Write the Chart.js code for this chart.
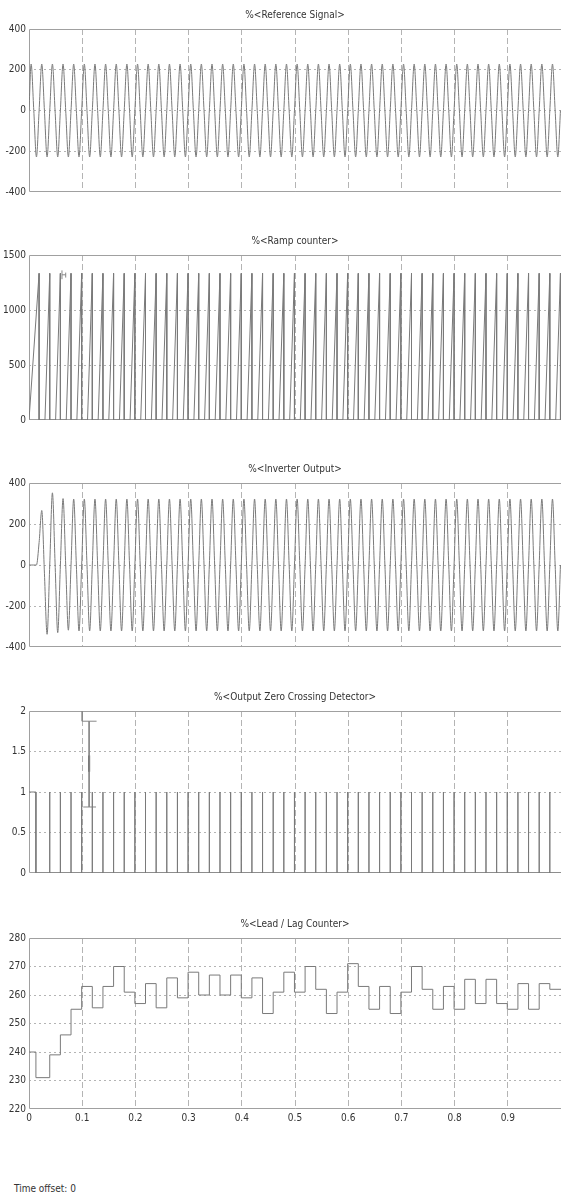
<!DOCTYPE html>
<html lang="en">
<head>
<meta charset="UTF-8" />
<title>Scope</title>
<script src="https://cdn.jsdelivr.net/npm/chart.js"></script>
<style>
  body { margin: 0; background: #fff; width: 561px; height: 1199px; overflow: hidden; position: relative; }
  canvas { position: absolute; left: 0; }
  #offset { position: absolute; left: 14px; top: 1183px; font: 10px 'Liberation Sans Narrow', 'DejaVu Sans Condensed', sans-serif; color: #333; }
</style>
</head>
<body>
<canvas id="c1" width="561" height="196" style="top:5px"></canvas>
<canvas id="c2" width="561" height="198" style="top:231px"></canvas>
<canvas id="c3" width="561" height="197" style="top:459px"></canvas>
<canvas id="c4" width="561" height="195" style="top:687px"></canvas>
<canvas id="c5" width="561" height="215" style="top:914px"></canvas>
<div id="offset">Time offset: 0</div>

<script>
// sample times (peaks, troughs, zero crossings of the 50 Hz waves)
var sineTimes = [0,
  0.004,0.009,0.014,0.019,0.024,0.029,0.034,0.039,0.044,0.049,0.054,0.059,0.064,0.069,0.074,0.079,0.084,0.089,0.094,0.099,
  0.104,0.109,0.114,0.119,0.124,0.129,0.134,0.139,0.144,0.149,0.154,0.159,0.164,0.169,0.174,0.179,0.184,0.189,0.194,0.199,
  0.204,0.209,0.214,0.219,0.224,0.229,0.234,0.239,0.244,0.249,0.254,0.259,0.264,0.269,0.274,0.279,0.284,0.289,0.294,0.299,
  0.304,0.309,0.314,0.319,0.324,0.329,0.334,0.339,0.344,0.349,0.354,0.359,0.364,0.369,0.374,0.379,0.384,0.389,0.394,0.399,
  0.404,0.409,0.414,0.419,0.424,0.429,0.434,0.439,0.444,0.449,0.454,0.459,0.464,0.469,0.474,0.479,0.484,0.489,0.494,0.499,
  0.504,0.509,0.514,0.519,0.524,0.529,0.534,0.539,0.544,0.549,0.554,0.559,0.564,0.569,0.574,0.579,0.584,0.589,0.594,0.599,
  0.604,0.609,0.614,0.619,0.624,0.629,0.634,0.639,0.644,0.649,0.654,0.659,0.664,0.669,0.674,0.679,0.684,0.689,0.694,0.699,
  0.704,0.709,0.714,0.719,0.724,0.729,0.734,0.739,0.744,0.749,0.754,0.759,0.764,0.769,0.774,0.779,0.784,0.789,0.794,0.799,
  0.804,0.809,0.814,0.819,0.824,0.829,0.834,0.839,0.844,0.849,0.854,0.859,0.864,0.869,0.874,0.879,0.884,0.889,0.894,0.899,
  0.904,0.909,0.914,0.919,0.924,0.929,0.934,0.939,0.944,0.949,0.954,0.959,0.964,0.969,0.974,0.979,0.984,0.989,0.994,0.999];

var refValues = [0,
  228,0,-228,0,228,0,-228,0,228,0,-228,0,228,0,-228,0,228,0,-228,0,
  228,0,-228,0,228,0,-228,0,228,0,-228,0,228,0,-228,0,228,0,-228,0,
  228,0,-228,0,228,0,-228,0,228,0,-228,0,228,0,-228,0,228,0,-228,0,
  228,0,-228,0,228,0,-228,0,228,0,-228,0,228,0,-228,0,228,0,-228,0,
  228,0,-228,0,228,0,-228,0,228,0,-228,0,228,0,-228,0,228,0,-228,0,
  228,0,-228,0,228,0,-228,0,228,0,-228,0,228,0,-228,0,228,0,-228,0,
  228,0,-228,0,228,0,-228,0,228,0,-228,0,228,0,-228,0,228,0,-228,0,
  228,0,-228,0,228,0,-228,0,228,0,-228,0,228,0,-228,0,228,0,-228,0,
  228,0,-228,0,228,0,-228,0,228,0,-228,0,228,0,-228,0,228,0,-228,0,
  228,0,-228,0,228,0,-228,0,228,0,-228,0,228,0,-228,0,228,0,-228,0];

var invValues = [0,
  0,0,0,110,266,-40,-338,0,352,10,-330,0,324,0,-318,0,322,0,-322,0,
  322,0,-322,0,322,0,-322,0,322,0,-322,0,322,0,-322,0,322,0,-322,0,
  322,0,-322,0,322,0,-322,0,322,0,-322,0,322,0,-322,0,322,0,-322,0,
  322,0,-322,0,322,0,-322,0,322,0,-322,0,322,0,-322,0,322,0,-322,0,
  322,0,-322,0,322,0,-322,0,322,0,-322,0,322,0,-322,0,322,0,-322,0,
  322,0,-322,0,322,0,-322,0,322,0,-322,0,322,0,-322,0,322,0,-322,0,
  322,0,-322,0,322,0,-322,0,322,0,-322,0,322,0,-322,0,322,0,-322,0,
  322,0,-322,0,322,0,-322,0,322,0,-322,0,322,0,-322,0,322,0,-322,0,
  322,0,-322,0,322,0,-322,0,322,0,-322,0,322,0,-322,0,322,0,-322,0,
  322,0,-322,0,322,0,-322,0,322,0,-322,0,322,0,-322,0,322,0,-322,0];

// ramp counter teeth: start of rise, reset time, peak count
var rampStartTimes = [0,0.030,0.050,0.070,0.090,0.110,0.130,0.150,0.170,0.190,
  0.210,0.230,0.250,0.270,0.290,0.310,0.330,0.350,0.370,0.390,
  0.410,0.430,0.450,0.470,0.490,0.510,0.530,0.550,0.570,0.590,
  0.610,0.630,0.650,0.670,0.690,0.710,0.730,0.750,0.770,0.790,
  0.810,0.830,0.850,0.870,0.890,0.910,0.930,0.950,0.970,0.990];
var rampPeakTimes = [0.019,0.039,0.059,0.079,0.099,0.119,0.139,0.159,0.179,0.199,
  0.219,0.239,0.259,0.279,0.299,0.319,0.339,0.359,0.379,0.399,
  0.419,0.439,0.459,0.479,0.499,0.519,0.539,0.559,0.579,0.599,
  0.619,0.639,0.659,0.679,0.699,0.719,0.739,0.759,0.779,0.799,
  0.819,0.839,0.859,0.879,0.899,0.919,0.939,0.959,0.979,0.999];
var rampPeakValues = [1333,1333,1333,1333,1333,1333,1333,1333,1333,1333,
  1333,1333,1333,1333,1333,1333,1333,1333,1333,1333,
  1333,1333,1333,1333,1333,1333,1333,1333,1333,1333,
  1333,1333,1333,1333,1333,1333,1333,1333,1333,1333,
  1333,1333,1333,1333,1333,1333,1333,1333,1333,1333];

// zero crossing detector: initial high level, then short pulses to 1
var zcInitialHighUntil = 0.013;
var zcPulseTimes = [0.039,0.059,0.079,0.099,0.119,0.139,0.159,0.179,0.199,
  0.219,0.239,0.259,0.279,0.299,0.319,0.339,0.359,0.379,0.399,
  0.419,0.439,0.459,0.479,0.499,0.519,0.539,0.559,0.579,0.599,
  0.619,0.639,0.659,0.679,0.699,0.719,0.739,0.759,0.779,0.799,
  0.819,0.839,0.859,0.879,0.899,0.919,0.939,0.959,0.979];

// lead / lag counter (value held from each time to the next)
var llTimes = [0,0.013,0.039,0.059,0.079,0.099,0.119,0.139,0.159,0.179,0.199,
  0.219,0.239,0.259,0.279,0.299,0.319,0.339,0.359,0.379,0.399,
  0.419,0.439,0.459,0.479,0.499,0.519,0.539,0.559,0.579,0.599,
  0.619,0.639,0.659,0.679,0.699,0.719,0.739,0.759,0.779,0.799,
  0.819,0.839,0.859,0.879,0.899,0.919,0.939,0.959,0.979,1.0];
var llValues = [240,231,239,246,255,263,255.5,263,270,261,257,
  264,255.5,266,259,268,260,267,260,267,259,
  266,253.5,261,268,261,270,262,253.5,261,271,
  263,255,263,253.5,261,270,262,255,263,255,
  265.5,257,265.5,257,255,264,255,264,262,262];

// data cursor marks left on the scope
var rampCursorT = [0.062,0.062,null,0.062,0.069,null,0.069,0.069];
var rampCursorV = [1280,1360,null,1320,1320,null,1295,1340];
var zcCursorT = [0.1,0.1,0.127,null,0.113,0.113,null,0.102,0.126];
var zcCursorV = [2,1.874,1.874,null,1.874,0.815,null,0.815,0.815];
var zcCursorDarkT = [0.113,0.113];
var zcCursorDarkV = [1.45,1.25];

var FONT = "'Liberation Sans Narrow', 'DejaVu Sans Condensed', sans-serif";
var LINE = '#7a7a7a';
var GRID = '#b4b4b4';

function pts(ts, vs) {
  return ts.map(function (t, i) { return { x: t, y: vs[i] }; });
}

var framePlugin = {
  id: 'frame',
  beforeDatasetsDraw: function (chart) {
    var a = chart.chartArea, ctx = chart.ctx;
    ctx.save();
    ctx.strokeStyle = '#a0a0a0';
    ctx.lineWidth = 1;
    ctx.beginPath();
    ctx.moveTo(a.right, a.top + 0.5);
    ctx.lineTo(a.left + 0.5, a.top + 0.5);
    ctx.lineTo(a.left + 0.5, a.bottom - 0.5);
    ctx.lineTo(a.right, a.bottom - 0.5);
    ctx.stroke();
    ctx.restore();
  }
};

// hide the grid lines that sit on the frame
function innerGrid(min, max) {
  return function (c) {
    var v = c.tick ? c.tick.value : null;
    return (v === min || v === max) ? 'rgba(0,0,0,0)' : GRID;
  };
}

function makeChart(id, title, yMin, yMax, yStep, datasets, showX) {
  new Chart(document.getElementById(id), {
    type: 'line',
    data: { datasets: datasets },
    plugins: [framePlugin],
    options: {
      responsive: false,
      animation: false,
      events: [],
      layout: { padding: 0 },
      plugins: {
        legend: { display: false },
        tooltip: { enabled: false },
        title: {
          display: true,
          text: title,
          fullSize: false,
          color: '#333',
          font: { family: FONT, size: 10, weight: 'normal' },
          padding: { top: 4, bottom: 8 }
        }
      },
      scales: {
        x: {
          type: 'linear', min: 0, max: 1,
          grid: { color: innerGrid(0, 1), drawTicks: false },
          border: { display: false, dash: [6, 3] },
          ticks: {
            display: showX, stepSize: 0.1, maxRotation: 0, padding: 3,
            color: '#333', font: { family: FONT, size: 10 },
            callback: function (v) { return v >= 1 ? '' : String(+v.toFixed(1)); }
          },
          afterFit: function (s) {
            s.height = showX ? 20 : 1;
            s.paddingLeft = 0;
            s.paddingRight = 0;
          }
        },
        y: {
          min: yMin, max: yMax,
          grid: { color: innerGrid(yMin, yMax), drawTicks: false },
          border: { display: false, dash: [2, 3] },
          ticks: {
            stepSize: yStep, padding: 3, color: '#333',
            font: { family: FONT, size: 10 },
            callback: function (v) { return String(+v.toFixed(1)); }
          },
          afterFit: function (s) { s.width = 29; }
        }
      }
    }
  });
}

function lineSet(data, extra) {
  var d = { data: data, borderColor: LINE, borderWidth: 1, pointRadius: 0, tension: 0, spanGaps: false };
  for (var k in extra) d[k] = extra[k];
  return d;
}

// ramp teeth
var rampData = [];
rampPeakTimes.forEach(function (t, i) {
  rampData.push({ x: rampStartTimes[i], y: 0 });
  rampData.push({ x: t, y: rampPeakValues[i] });
  rampData.push({ x: t, y: 0 });
});
rampData.push({ x: 1, y: 0 });

// zero crossing pulses
var zcData = [{ x: 0, y: 1 }, { x: zcInitialHighUntil, y: 1 }, { x: zcInitialHighUntil, y: 0 }];
zcPulseTimes.forEach(function (t) {
  zcData.push({ x: t, y: 0 });
  zcData.push({ x: t, y: 1 });
  zcData.push({ x: t, y: 0 });
});
zcData.push({ x: 1, y: 0 });

function cursor(ts, vs) {
  return ts.map(function (t, i) { return t === null ? { x: null, y: null } : { x: t, y: vs[i] }; });
}

makeChart('c1', '%<Reference Signal>', -400, 400, 200,
  [lineSet(pts(sineTimes, refValues), { cubicInterpolationMode: 'monotone' })], false);

makeChart('c2', '%<Ramp counter>', 0, 1500, 500,
  [lineSet(rampData, {}), lineSet(cursor(rampCursorT, rampCursorV), { borderColor: '#888' })], false);

makeChart('c3', '%<Inverter Output>', -400, 400, 200,
  [lineSet(pts(sineTimes, invValues), { cubicInterpolationMode: 'monotone' })], false);

makeChart('c4', '%<Output Zero Crossing Detector>', 0, 2, 0.5,
  [lineSet(zcData, {}),
   lineSet(cursor(zcCursorT, zcCursorV), { borderColor: '#888' }),
   lineSet(cursor(zcCursorDarkT, zcCursorDarkV), { borderColor: '#333', borderWidth: 2 })], false);

makeChart('c5', '%<Lead / Lag Counter>', 220, 280, 10,
  [lineSet(pts(llTimes, llValues), { stepped: true })], true);
</script>
</body>
</html>
